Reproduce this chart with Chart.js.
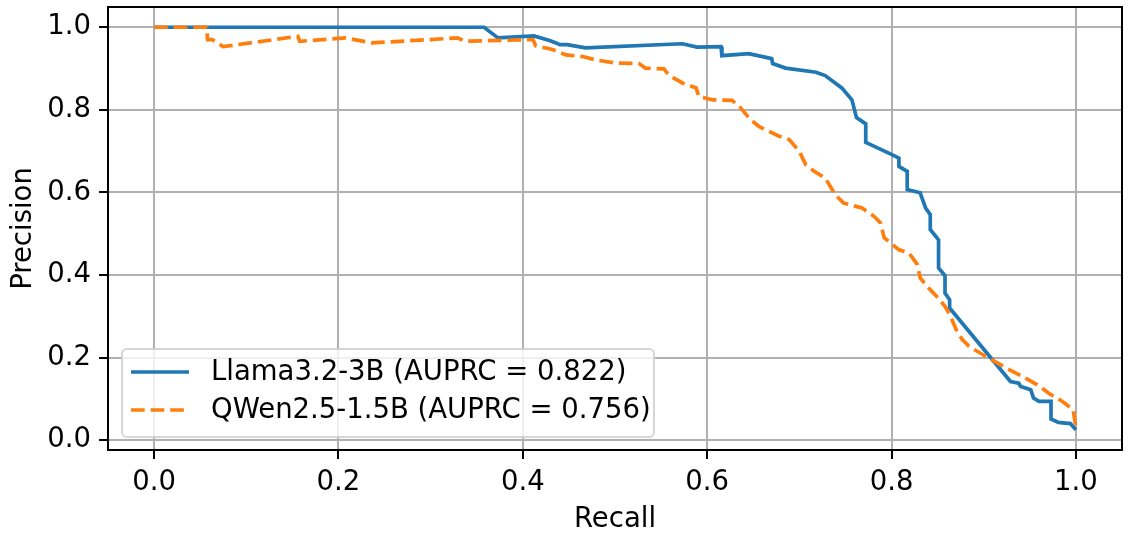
<!DOCTYPE html>
<html>
<head>
<meta charset="utf-8">
<script src="https://cdn.jsdelivr.net/npm/chart.js@4/dist/chart.umd.min.js"></script>
<style>
  html, body { margin: 0; padding: 0; background: #fff; }
  canvas { display: block; }
</style>
</head>
<body>
<canvas id="prchart" width="1131" height="533"></canvas>
<script>
// Precision-recall curves
const llamaLabel = 'Llama3.2-3B (AUPRC = 0.822)';
const qwenLabel = 'QWen2.5-1.5B (AUPRC = 0.756)';

const llamaRecall = [0, 0.358, 0.373, 0.412, 0.429, 0.436, 0.440, 0.448, 0.468, 0.573,
  0.589, 0.615, 0.616, 0.645, 0.670, 0.671, 0.685, 0.718, 0.728, 0.746,
  0.757, 0.762, 0.772, 0.772, 0.801, 0.808, 0.808, 0.817, 0.817, 0.831,
  0.837, 0.842, 0.842, 0.851, 0.851, 0.858, 0.858, 0.863, 0.863, 0.929,
  0.938, 0.940, 0.951, 0.954, 0.960, 0.973, 0.973, 0.981, 0.994, 1.0];
const llamaPrecision = [1.0, 1.0, 0.974, 0.979, 0.968, 0.962, 0.958, 0.958, 0.950, 0.960,
  0.952, 0.953, 0.931, 0.936, 0.924, 0.912, 0.901, 0.891, 0.883, 0.853,
  0.824, 0.781, 0.766, 0.721, 0.691, 0.683, 0.663, 0.651, 0.607, 0.599,
  0.562, 0.546, 0.510, 0.485, 0.417, 0.398, 0.356, 0.340, 0.320, 0.142,
  0.138, 0.130, 0.122, 0.102, 0.094, 0.094, 0.051, 0.043, 0.040, 0.025];

const qwenRecall = [0, 0.057, 0.058, 0.063, 0.075, 0.156, 0.158, 0.208, 0.236, 0.329,
  0.338, 0.411, 0.414, 0.432, 0.447, 0.465, 0.479, 0.501, 0.526, 0.533,
  0.553, 0.559, 0.573, 0.588, 0.591, 0.606, 0.627, 0.635, 0.647, 0.656,
  0.678, 0.689, 0.700, 0.707, 0.716, 0.728, 0.739, 0.748, 0.768, 0.781,
  0.788, 0.792, 0.808, 0.819, 0.828, 0.831, 0.840, 0.849, 0.858, 0.864,
  0.871, 0.877, 0.884, 0.902, 0.924, 0.942, 0.961, 0.970, 0.985, 0.997, 1.0];
const qwenPrecision = [1.0, 1.0, 0.970, 0.970, 0.953, 0.978, 0.966, 0.974, 0.962, 0.974,
  0.966, 0.970, 0.955, 0.946, 0.933, 0.929, 0.921, 0.913, 0.912, 0.901,
  0.899, 0.883, 0.865, 0.853, 0.832, 0.824, 0.823, 0.808, 0.776, 0.760,
  0.736, 0.728, 0.699, 0.667, 0.651, 0.635, 0.594, 0.574, 0.562, 0.542,
  0.526, 0.490, 0.461, 0.453, 0.425, 0.393, 0.369, 0.348, 0.324, 0.300,
  0.263, 0.243, 0.227, 0.203, 0.175, 0.154, 0.130, 0.114, 0.094, 0.074, 0.030];

const xTicks = [0, 0.2, 0.4, 0.6, 0.8, 1.0];
const yTicks = [0, 0.2, 0.4, 0.6, 0.8, 1.0];

const FONT = 'DejaVu Sans';
const FONT_SIZE = 27.5;

function toPoints(xs, ys) {
  return xs.map((x, i) => ({ x: x, y: ys[i] }));
}

// Legend box in the lower left corner, matplotlib style
const legendBox = {
  id: 'legendBox',
  afterDatasetsDraw(chart) {
    const ctx = chart.ctx;
    const area = chart.chartArea;
    const x0 = area.left + 14, y0 = area.bottom - 101;
    const w = 532, h = 88;
    ctx.save();
    ctx.beginPath();
    ctx.roundRect(x0, y0, w, h, 5);
    ctx.fillStyle = 'rgba(255,255,255,0.8)';
    ctx.fill();
    ctx.lineWidth = 2;
    ctx.strokeStyle = 'rgba(204,204,204,0.8)';
    ctx.stroke();
    ctx.font = FONT_SIZE + 'px "' + FONT + '"';
    ctx.textBaseline = 'middle';
    ctx.fillStyle = '#000';
    chart.data.datasets.forEach((ds, i) => {
      const cy = y0 + 23 + i * 38;
      ctx.beginPath();
      ctx.setLineDash(ds.borderDash || []);
      ctx.lineWidth = ds.borderWidth;
      ctx.strokeStyle = ds.borderColor;
      ctx.moveTo(x0 + 9, cy);
      ctx.lineTo(x0 + 67, cy);
      ctx.stroke();
      ctx.setLineDash([]);
      ctx.fillText(ds.label, x0 + 89, cy + 1);
    });
    ctx.restore();
  },
  afterDraw(chart) {
    const ctx = chart.ctx;
    const a = chart.chartArea;
    ctx.save();
    ctx.lineWidth = 2;
    ctx.strokeStyle = '#000';
    ctx.strokeRect(a.left, a.top, a.right - a.left, a.bottom - a.top);
    ctx.restore();
  }
};

const gridStyle = {
  color: '#b0b0b0',
  lineWidth: 2,
  tickColor: '#000',
  tickWidth: 2,
  tickLength: 9
};

new Chart(document.getElementById('prchart'), {
  type: 'scatter',
  data: {
    datasets: [{
      label: llamaLabel,
      data: toPoints(llamaRecall, llamaPrecision),
      showLine: true,
      borderColor: '#1f77b4',
      borderWidth: 3.7,
      pointRadius: 0,
      tension: 0,
      order: 1
    }, {
      label: qwenLabel,
      data: toPoints(qwenRecall, qwenPrecision),
      showLine: true,
      borderColor: '#ff7f0e',
      borderWidth: 3.7,
      borderDash: [13.7, 5.9],
      pointRadius: 0,
      tension: 0,
      order: 0
    }]
  },
  options: {
    responsive: false,
    animation: false,
    layout: { padding: { left: 0, right: 9, top: 7, bottom: 0 } },
    plugins: {
      legend: { display: false },
      tooltip: { enabled: false }
    },
    scales: {
      x: {
        type: 'linear',
        min: -0.05,
        max: 1.05,
        afterBuildTicks: (scale) => { scale.ticks = xTicks.map(v => ({ value: v })); },
        afterFit: (scale) => {
          scale.height = 83;
          scale.paddingLeft = 0;
          scale.paddingRight = 0;
        },
        grid: gridStyle,
        border: { display: false },
        ticks: {
          color: '#000',
          padding: 7,
          font: { family: FONT, size: FONT_SIZE },
          callback: (v) => v.toFixed(1)
        },
        title: {
          display: true,
          text: 'Recall',
          color: '#000',
          font: { family: FONT, size: FONT_SIZE, lineHeight: 0.95 },
          padding: { top: 0, bottom: 0 }
        }
      },
      y: {
        type: 'linear',
        min: -0.024,
        max: 1.049,
        afterBuildTicks: (scale) => { scale.ticks = yTicks.map(v => ({ value: v })); },
        afterFit: (scale) => {
          scale.width = 108;
          scale.paddingTop = 0;
          scale.paddingBottom = 0;
        },
        grid: gridStyle,
        border: { display: false },
        ticks: {
          color: '#000',
          padding: 8,
          font: { family: FONT, size: FONT_SIZE },
          callback: (v) => v.toFixed(1)
        },
        title: {
          display: true,
          text: 'Precision',
          color: '#000',
          font: { family: FONT, size: FONT_SIZE },
          padding: { top: 7, bottom: 0 }
        }
      }
    }
  },
  plugins: [legendBox]
});
</script>
</body>
</html>
